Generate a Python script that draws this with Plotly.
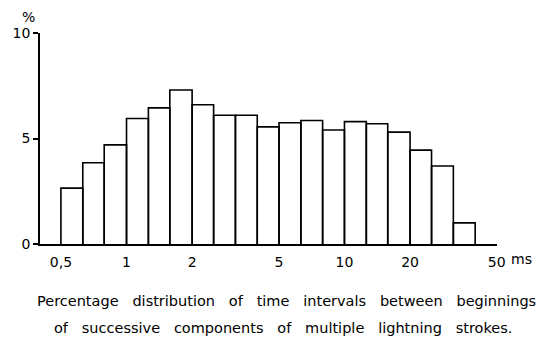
import plotly.graph_objects as go

# Class limits of the interval histogram (ms), ten classes per decade
bin_edges_ms = [0.5, 0.63, 0.79, 1.0, 1.26, 1.58, 2.0, 2.51, 3.16, 3.98, 5.01,
                6.31, 7.94, 10.0, 12.6, 15.8, 20.0, 25.1, 31.6, 39.8]
# Share of intervals in each class (%)
percent = [2.65, 3.85, 4.7, 5.95, 6.45, 7.3, 6.6, 6.1, 6.1, 5.55,
           5.75, 5.85, 5.4, 5.8, 5.7, 5.3, 4.45, 3.7, 1.0]

x_tick_vals = [0.5, 1, 2, 5, 10, 20, 50]
x_tick_text = ["0,5", "1", "2", "5", "10", "20", "50"]
y_tick_vals = [0, 5, 10]

caption = [
    "Percentage distribution of time intervals between beginnings",
    "of successive components of multiple lightning strokes.",
]

FONT = "DejaVu Sans"
GAP = "\u00a0\u00a0\u00a0"

# Each class drawn as an open-topped rectangle outline
xs, ys = [], []
for lo, hi, h in zip(bin_edges_ms[:-1], bin_edges_ms[1:], percent):
    xs += [lo, lo, hi, hi, None]
    ys += [0, h, h, 0, None]

fig = go.Figure(
    go.Scatter(
        x=xs, y=ys, mode="lines",
        line=dict(color="black", width=1.6),
        hoverinfo="skip", showlegend=False,
    )
)

fig.update_layout(
    width=547, height=347,
    margin=dict(l=36, r=50, t=33, b=103),
    paper_bgcolor="white", plot_bgcolor="white",
    font=dict(family=FONT, size=14, color="black"),
    showlegend=False,
)

fig.update_xaxes(
    type="log", range=[-0.397, 1.70],
    tickvals=x_tick_vals, ticktext=x_tick_text,
    showgrid=False, zeroline=False,
    showline=True, linecolor="black", linewidth=1.8,
    ticks="", ticklabelstandoff=4,
    tickfont=dict(family=FONT, size=14, color="black"),
)
fig.update_yaxes(
    range=[0, 10], tickvals=y_tick_vals,
    showgrid=False, zeroline=False,
    showline=True, linecolor="black", linewidth=1.8,
    ticks="outside", ticklen=5, tickwidth=1.5, tickcolor="black",
    tickfont=dict(family=FONT, size=14, color="black"),
)

# Units: % above the value axis, ms after the last time label
fig.add_annotation(text="%", xref="paper", yref="paper", x=-0.026, y=1.076,
                   showarrow=False, xanchor="center", yanchor="middle",
                   font=dict(family=FONT, size=14))
fig.add_annotation(text="ms", xref="paper", yref="paper", x=1.0, y=0,
                   xshift=12, yshift=-15, showarrow=False,
                   xanchor="left", yanchor="middle",
                   font=dict(family=FONT, size=14))

# Two-line caption under the chart
for line, (xp, yp) in zip(caption, [(0.540, -0.270), (0.531, -0.398)]):
    fig.add_annotation(text=line.replace(" ", GAP), xref="paper", yref="paper",
                       x=xp, y=yp, showarrow=False,
                       xanchor="center", yanchor="middle",
                       font=dict(family=FONT, size=14.5))

fig.write_html("out.html")
